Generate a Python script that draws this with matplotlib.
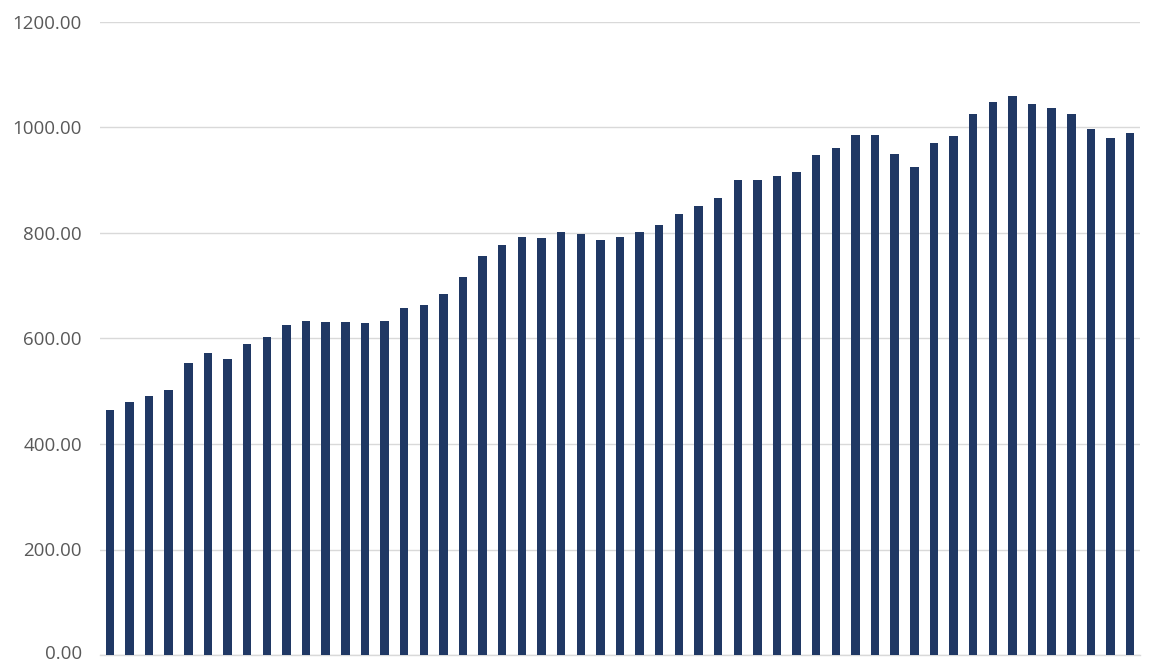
import matplotlib.pyplot as plt
import matplotlib.transforms as mtransforms
import numpy as np

# values (53 bars, no category labels shown)
values = [
    465, 480, 491, 503, 553, 572, 561, 589, 602, 626,
    634, 631, 631, 630, 633, 657, 664, 685, 717, 757,
    778, 792, 790, 801, 798, 787, 792, 801, 816, 836,
    852, 866, 901, 900, 908, 916, 948, 962, 986, 986,
    950, 926, 970, 984, 1025, 1048, 1060, 1045, 1037, 1025,
    997, 981, 989,
]
y_ticks = [0, 200, 400, 600, 800, 1000, 1200]

bar_color = "#203864"
grid_color = "#d9d9d9"
label_color = "#595959"

fig = plt.figure(figsize=(11.6, 6.63), dpi=100)
ax = fig.add_axes([100 / 1160, 8 / 663, 1040 / 1160, 633 / 663])

X = np.arange(len(values))
ax.bar(X, values, width=0.43, color=bar_color, zorder=3)

ax.set_xlim(-0.5, len(values) - 0.5)
ax.set_ylim(0, 1200)
ax.set_yticks(y_ticks)
ax.set_yticklabels([f"{v:.2f}" for v in y_ticks])
ax.set_xticks([])
ax.tick_params(axis="y", length=0, pad=13, labelsize=13.5, labelcolor=label_color)
for lab in ax.get_yticklabels():
    lab.set_fontfamily("Open Sans")

# nudge the bottom label up a little so it stays inside the figure
low = ax.get_yticklabels()[0]
low.set_transform(low.get_transform() + mtransforms.ScaledTranslation(0, 3 / 100, fig.dpi_scale_trans))

ax.grid(axis="y", color=grid_color, linewidth=1.0, zorder=0)
for side in ["top", "right", "left"]:
    ax.spines[side].set_visible(False)
ax.spines["bottom"].set_color(grid_color)
ax.spines["bottom"].set_linewidth(1.0)

fig.savefig("out.png", dpi=100)
